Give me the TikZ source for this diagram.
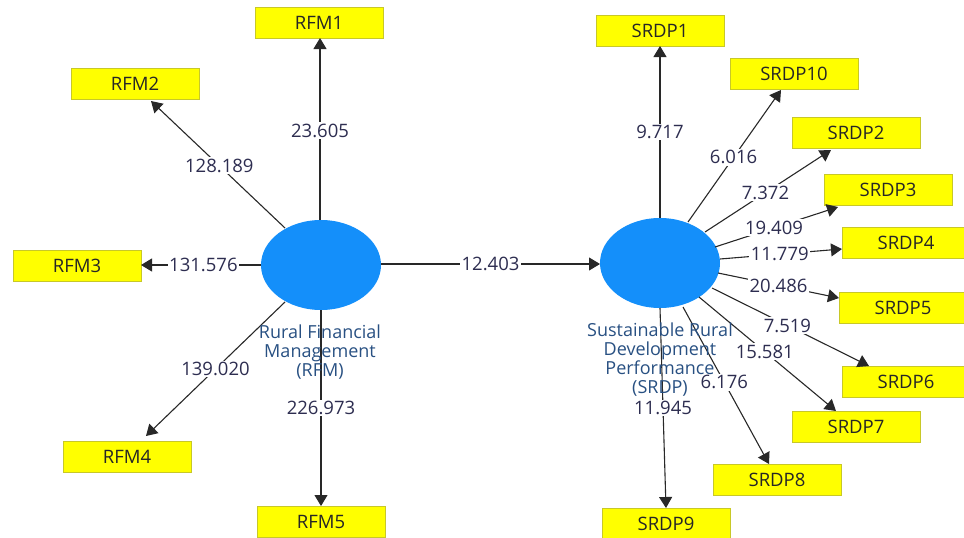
\documentclass[tikz,border=0pt]{standalone}
\usepackage{fontspec}
\setmainfont{Open Sans}
\usetikzlibrary{arrows.meta,shapes.geometric}
\definecolor{boxfill}{RGB}{255,255,0}
\definecolor{boxline}{RGB}{200,200,40}
\definecolor{lvfill}{RGB}{20,143,250}
\definecolor{numtxt}{RGB}{45,45,80}
\definecolor{lvtxt}{RGB}{40,80,130}
\definecolor{edge}{RGB}{40,40,40}
\tikzset{
  ind/.style={draw=boxline,fill=boxfill,line width=0.9pt,minimum width=128pt,minimum height=31pt,inner sep=0pt,font=\fontsize{18.5}{20}\selectfont,text=black!85},
  lv/.style={ellipse,fill=lvfill,draw=none,minimum width=120pt,minimum height=90pt,inner sep=0pt},
  lvlabel/.style={align=center,font=\fontsize{18}{19}\selectfont,text=lvtxt,inner sep=0pt},
  link/.style={draw=edge,line width=1.1pt,-{Triangle[width=13pt,length=11pt]}},
  wt/.style={fill=white,inner sep=1.5pt,font=\fontsize{18.5}{20}\selectfont,text=numtxt}
}
\begin{document}
\begin{tikzpicture}[x=1pt,y=-1pt]
\useasboundingbox (0,0) rectangle (964,538);
% latent variables
\node[lv] (rfm) at (321,265) {};
\node[lv] (srdp) at (660,263) {};
% indicators
\node[ind] (rfm1) at (319,22.5) {RFM1};
\node[ind] (rfm2) at (135,84) {RFM2};
\node[ind] (rfm3) at (77,265.5) {RFM3};
\node[ind] (rfm4) at (127,456.5) {RFM4};
\node[ind] (rfm5) at (321,521.5) {RFM5};
\node[ind] (s1) at (660,30.5) {SRDP1};
\node[ind] (s10) at (794,73.5) {SRDP10};
\node[ind] (s2) at (856,133) {SRDP2};
\node[ind] (s3) at (888,190) {SRDP3};
\node[ind] (s4) at (906,242.5) {SRDP4};
\node[ind] (s5) at (903,307.5) {SRDP5};
\node[ind] (s6) at (906,381.5) {SRDP6};
\node[ind] (s7) at (856,427) {SRDP7};
\node[ind] (s8) at (777,480) {SRDP8};
\node[ind] (s9) at (666,523.5) {SRDP9};
% connection points
\coordinate (a1) at (320,220);
\coordinate (a2) at (285,228);
\coordinate (a3) at (261,265);
\coordinate (a4) at (285,302);
\coordinate (a5) at (321,310);
\coordinate (t1) at (320,38);
\coordinate (t2) at (151,101);
\coordinate (t3) at (141,265);
\coordinate (t4) at (146,436);
\coordinate (t5) at (321,506);
\coordinate (p) at (381,264);
\coordinate (q) at (600,264);
\coordinate (b1) at (660,218);   \coordinate (u1) at (660,46);
\coordinate (b10) at (688,222);  \coordinate (u10) at (781,90);
\coordinate (b2) at (705,232);   \coordinate (u2) at (831,150);
\coordinate (b3) at (715,247);   \coordinate (u3) at (838,207);
\coordinate (b4) at (720,259);   \coordinate (u4) at (842,249);
\coordinate (b5) at (718,273);   \coordinate (u5) at (839,298);
\coordinate (b6) at (712,288);   \coordinate (u6) at (869,366);
\coordinate (b7) at (699,297);   \coordinate (u7) at (836,411);
\coordinate (b8) at (683,307);   \coordinate (u8) at (769,464);
\coordinate (b9) at (660,308);   \coordinate (u9) at (666,508);
% latent label positions
\coordinate (rfml) at (320,352);
\coordinate (srdpl) at (660,360);
% edges
\draw[link] (a1) -- node[wt,pos=0.49] {23.605} (t1);
\draw[link] (a2) -- node[wt,pos=0.49] {128.189} (t2);
\draw[link] (a3) -- node[wt,pos=0.48] {131.576} (t3);
\draw[link] (a4) -- node[wt,pos=0.5] {139.020} (t4);
\draw[link] (a5) -- node[wt,pos=0.5] {226.973} (t5);
\draw[link] (p) -- node[wt,pos=0.5] {12.403} (q);
\draw[link] (b1) -- node[wt,pos=0.5] {9.717} (u1);
\draw[link] (b10) -- node[wt,pos=0.49] {6.016} (u10);
\draw[link] (b2) -- node[wt,pos=0.48] {7.372} (u2);
\draw[link] (b3) -- node[wt,pos=0.48] {19.409} (u3);
\draw[link] (b4) -- node[wt,pos=0.49] {11.779} (u4);
\draw[link] (b5) -- node[wt,pos=0.5] {20.486} (u5);
\draw[link] (b6) -- node[wt,pos=0.48] {7.519} (u6);
\draw[link] (b7) -- node[wt,pos=0.48] {15.581} (u7);
\draw[link] (b8) -- node[wt,pos=0.48] {6.176} (u8);
\draw[link] (b9) -- node[wt,pos=0.5] {11.945} (u9);
% latent labels on top of the lines
\node[lvlabel] (rfmtext) at (rfml) {Rural Financial\\Management\\(RFM)};
\node[lvlabel] (srdptext) at (srdpl) {Sustainable Rural\\Development\\Performance\\(SRDP)};
\end{tikzpicture}
\end{document}
